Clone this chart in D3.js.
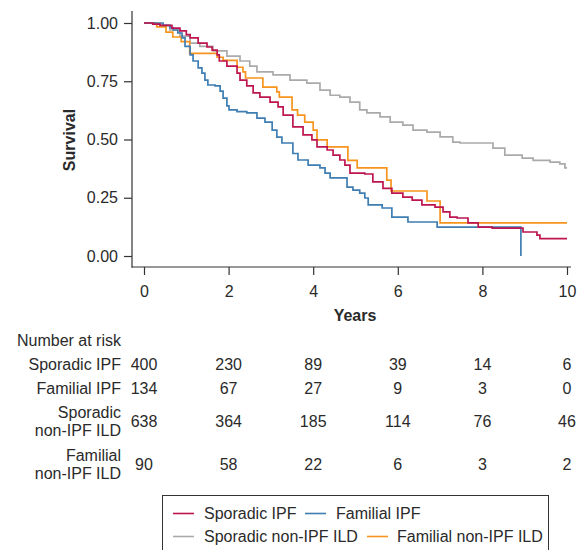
<!DOCTYPE html>
<html><head><meta charset="utf-8">
<script src="https://cdn.jsdelivr.net/npm/d3@7"></script>
<style>
body{margin:0;background:#fff;}
text{font-family:"Liberation Sans",Arial,Helvetica,sans-serif;fill:#2a2a2a;}
</style></head>
<body><svg id="c" width="585" height="550"></svg>
<script>
// ---- data (time in years, survival probability) ----
const seriesNames = ["Sporadic IPF","Familial IPF","Sporadic non-IPF ILD","Familial non-IPF ILD"];
const seriesColors = ["#BE1550","#3E7EB3","#AAAAAA","#F7941D"];
const sporadicIPF = [[0,1],[0.21,0.995],[0.38,0.99],[0.66,0.978],[0.85,0.966],[1.0,0.95],[1.09,0.936],[1.28,0.914],[1.49,0.897],[1.61,0.884],[1.73,0.863],[1.78,0.837],[1.96,0.815],[2.2,0.785],[2.27,0.755],[2.43,0.73],[2.58,0.70],[2.74,0.682],[2.98,0.66],[3.17,0.64],[3.29,0.605],[3.52,0.554],[3.76,0.52],[3.97,0.498],[4.09,0.468],[4.33,0.455],[4.47,0.433],[4.63,0.412],[4.75,0.39],[4.87,0.356],[5.22,0.352],[5.41,0.318],[5.65,0.29],[5.86,0.27],[6.12,0.253],[6.34,0.24],[6.57,0.219],[6.88,0.21],[7.07,0.189],[7.23,0.167],[7.4,0.163],[7.66,0.142],[7.9,0.124],[8.23,0.12],[8.96,0.103],[9.29,0.09],[9.36,0.075],[10,0.075]];
const familialIPF = [[0,1],[0.45,0.99],[0.61,0.98],[0.69,0.97],[0.8,0.957],[0.9,0.936],[0.97,0.9],[1.09,0.863],[1.16,0.837],[1.28,0.807],[1.37,0.785],[1.44,0.755],[1.51,0.734],[1.68,0.73],[1.8,0.708],[1.87,0.678],[1.96,0.644],[2.01,0.627],[2.2,0.62],[2.43,0.614],[2.67,0.592],[2.86,0.575],[3.03,0.54],[3.14,0.51],[3.26,0.485],[3.52,0.44],[3.64,0.412],[3.88,0.39],[4.16,0.378],[4.28,0.356],[4.4,0.335],[4.8,0.296],[4.94,0.283],[5.1,0.27],[5.22,0.249],[5.3,0.219],[5.63,0.206],[5.86,0.167],[6.24,0.146],[6.93,0.124],[8.91,0.124],[8.91,0.0]];
const sporadicNonIPF = [[0,1],[0.2,0.996],[0.38,0.99],[0.61,0.97],[0.85,0.944],[1.09,0.914],[1.32,0.9],[1.63,0.88],[1.96,0.858],[2.27,0.837],[2.5,0.815],[2.67,0.79],[3.05,0.777],[3.45,0.755],[3.85,0.742],[4.16,0.712],[4.4,0.69],[4.63,0.682],[4.87,0.66],[5.1,0.627],[5.27,0.614],[5.58,0.597],[5.82,0.575],[6.12,0.562],[6.36,0.54],[6.69,0.532],[7.0,0.511],[7.3,0.489],[7.47,0.485],[8.25,0.463],[8.53,0.433],[8.94,0.42],[9.2,0.41],[9.6,0.403],[9.83,0.395],[9.95,0.378],[10,0.378]];
const familialNonIPF = [[0,1],[0.30,0.983],[0.52,0.961],[0.68,0.94],[0.88,0.92],[1.08,0.87],[1.73,0.853],[1.87,0.84],[2.2,0.81],[2.34,0.79],[2.4,0.764],[2.81,0.725],[3.14,0.704],[3.2,0.682],[3.5,0.627],[3.63,0.605],[3.8,0.575],[4.0,0.54],[4.09,0.498],[4.33,0.468],[4.82,0.41],[5.04,0.378],[5.74,0.326],[5.84,0.279],[6.69,0.236],[7.0,0.142],[10,0.142]];
const allSeries = [sporadicIPF, familialIPF, sporadicNonIPF, familialNonIPF];
const drawOrder = [2,3,1,0];

const xTicks = [0,2,4,6,8,10];
const yTicks = [0,0.25,0.5,0.75,1];
const riskTimes = [0,2,4,6,8,10];
const riskLabels = [["Sporadic IPF"],["Familial IPF"],["Sporadic","non-IPF ILD"],["Familial","non-IPF ILD"]];
const riskSporadicIPF = [400,230,89,39,14,6];
const riskFamilialIPF = [134,67,27,9,3,0];
const riskSporadicNonIPF = [638,364,185,114,76,46];
const riskFamilialNonIPF = [90,58,22,6,3,2];
const riskRows = [riskSporadicIPF, riskFamilialIPF, riskSporadicNonIPF, riskFamilialNonIPF];

// ---- chart ----
const FS = 16;
const svg = d3.select("#c");
const x = d3.scaleLinear().domain([0,10]).range([144,567]);
const y = d3.scaleLinear().domain([0,1]).range([256,23]);
const axisColor = "#333";

// L-frame
svg.append("line").attr("x1",132).attr("x2",132).attr("y1",11).attr("y2",267.5).attr("stroke",axisColor).attr("stroke-width",1.2);
svg.append("line").attr("x1",131.4).attr("x2",571).attr("y1",267).attr("y2",267).attr("stroke",axisColor).attr("stroke-width",1.2);

const yAxis = svg.append("g").attr("transform","translate(132,0)")
  .call(d3.axisLeft(y).tickValues(yTicks).tickFormat(d3.format(".2f")).tickSize(8).tickPadding(6));
yAxis.select(".domain").remove();
const xAxis = svg.append("g").attr("transform","translate(0,267)")
  .call(d3.axisBottom(x).tickValues(xTicks).tickFormat(d3.format("d")).tickSize(8).tickPadding(11));
xAxis.select(".domain").remove();
svg.selectAll(".tick line").attr("stroke",axisColor).attr("stroke-width",1.2);
svg.selectAll(".tick text").attr("font-size",FS).attr("fill","#2a2a2a").style("font-family","'Liberation Sans',Arial,sans-serif");

svg.append("text").attr("x",355).attr("y",321).attr("text-anchor","middle").attr("font-size",FS).attr("font-weight","bold").text("Years");
svg.append("text").attr("transform","translate(75,140) rotate(-90)").attr("text-anchor","middle").attr("font-size",FS).attr("font-weight","bold").text("Survival");

const line = d3.line().x(d=>x(d[0])).y(d=>y(d[1])).curve(d3.curveStepAfter);
drawOrder.forEach(i=>{
  svg.append("path").datum(allSeries[i]).attr("d",line).attr("fill","none")
    .attr("stroke",seriesColors[i]).attr("stroke-width",1.7);
});

// ---- number at risk ----
svg.append("text").attr("x",121).attr("y",346).attr("text-anchor","end").attr("font-size",FS).text("Number at risk");
const rowY = [370,394,427,470];
riskRows.forEach((row,ri)=>{
  const labs = riskLabels[ri];
  labs.forEach((l,li)=>{
    const yy = labs.length===1 ? rowY[ri] : rowY[ri] + (li===0?-9:9);
    svg.append("text").attr("x",121).attr("y",yy).attr("text-anchor","end").attr("font-size",FS).text(l);
  });
  row.forEach((v,ci)=>{
    svg.append("text").attr("x",x(riskTimes[ci])).attr("y",rowY[ri]).attr("text-anchor","middle").attr("font-size",FS).text(v);
  });
});

// ---- legend ----
svg.append("rect").attr("x",162.5).attr("y",495.5).attr("width",386).attr("height",70).attr("fill","none").attr("stroke","#333").attr("stroke-width",1);
const legItems = [
  {i:0,lx:173,tx:204,ty:519},{i:1,lx:305,tx:336,ty:519},{i:2,lx:173,tx:204,ty:542},{i:3,lx:367,tx:397,ty:542}
];
legItems.forEach(it=>{
  svg.append("line").attr("x1",it.lx).attr("x2",it.lx+21).attr("y1",it.ty-5.5).attr("y2",it.ty-5.5).attr("stroke",seriesColors[it.i]).attr("stroke-width",1.6);
  svg.append("text").attr("x",it.tx).attr("y",it.ty).attr("font-size",FS).text(seriesNames[it.i]);
});
</script></body></html>
